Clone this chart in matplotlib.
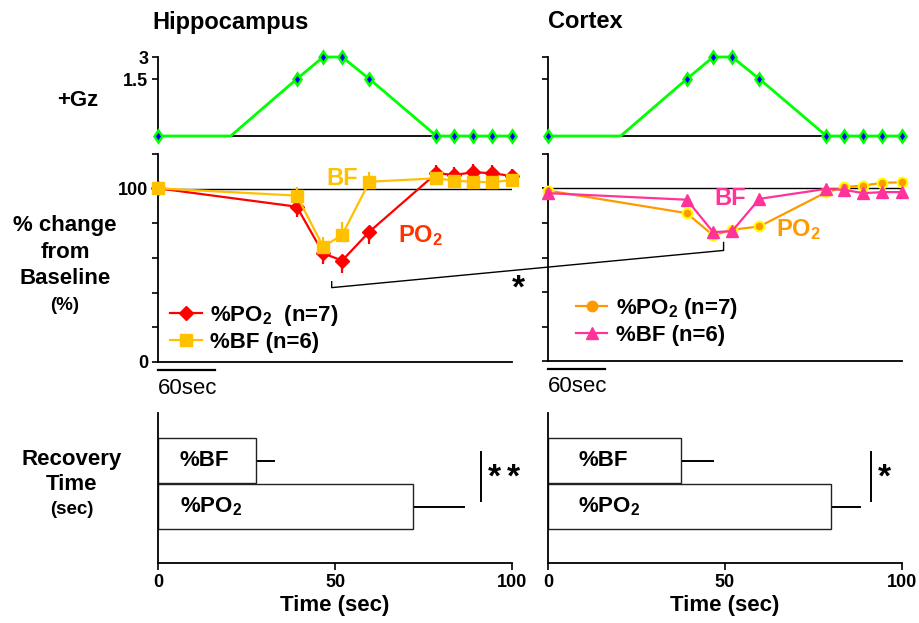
import numpy as np
import matplotlib
matplotlib.use("Agg")
import matplotlib.pyplot as plt
from matplotlib.lines import Line2D

plt.rcParams['font.family'] = ['Liberation Sans', 'DejaVu Sans']
plt.rcParams['font.weight'] = 'bold'
plt.rcParams['axes.labelweight'] = 'bold'
plt.rcParams['mathtext.default'] = 'regular'

# time of each sample (sec) and the +Gz profile
t = [0, 147, 175, 195, 224, 295, 314, 334, 354, 375]
gz_t = [0, 77, 147, 175, 195, 224, 295, 314, 334, 354, 375]
gz = [0, 0, 1.5, 3, 3, 1.5, 0, 0, 0, 0, 0]

# hippocampus, % of baseline
hip_po2 = [100.2, 89.6, 62.7, 58.5, 75.2, 108.9, 107.9, 109.5, 108.9, 107.3]
hip_po2_lo = [0, 5.8, 6.3, 6.9, 6.9, 0, 0, 0, 0, 0]
hip_po2_hi = [0, 0, 0, 0, 0, 4.6, 4.6, 4.6, 4.6, 4.0]
hip_bf = [100.2, 96.0, 66.5, 73.3, 104.0, 106.0, 104.6, 104.0, 103.7, 105.0]
hip_bf_lo = [0, 0, 0, 0, 0, 2.5, 3.5, 3.5, 4.0, 2.5]
hip_bf_hi = [0, 5.2, 5.8, 7.7, 5.8, 0, 0, 0, 0, 0]

# cortex, % of baseline
ctx_po2 = [98.8, 85.7, 72.8, 76.1, 78.0, 97.9, 100.8, 101.7, 103.3, 103.6]
ctx_bf = [97.3, 93.5, 74.7, 75.3, 94.0, 99.8, 99.2, 97.3, 97.9, 97.9]

# recovery time (sec): [%PO2, %BF]
rec_labels = ['%PO$_2$', '%BF']
hip_rec = [72.1, 27.7]
hip_rec_err = [14.2, 5.1]
ctx_rec = [80.0, 37.6]
ctx_rec_err = [8.0, 9.1]

W, H = 920, 623
fig = plt.figure(figsize=(W / 100, H / 100), dpi=100)


def px_axes(x0, y0, x1, y1):
    return fig.add_axes([x0 / W, 1 - y1 / H, (x1 - x0) / W, (y1 - y0) / H])


def only_left_bottom(ax):
    for s in ['top', 'right']:
        ax.spines[s].set_visible(False)
    for s in ['left', 'bottom']:
        ax.spines[s].set_linewidth(1.3)
    ax.tick_params(labelsize=13, width=1.2, length=4, pad=3)


# the G levels were drawn on a stretched scale
gz_in = [-10, 0, 1.5, 3, 10]
gz_out = [-263, 0, 57, 79, 182]


def gz_fwd(v):
    return np.interp(v, gz_in, gz_out)


def gz_inv(v):
    return np.interp(v, gz_out, gz_in)


def gz_panel(ax, labels):
    only_left_bottom(ax)
    ax.set_yscale('function', functions=(gz_fwd, gz_inv))
    ax.plot(gz_t, gz, color='#00ff00', lw=2, marker='d', ms=6, mfc='blue',
            mec='#00ff00', mew=1.8, markevery=[0, 2, 3, 4, 5, 6, 7, 8, 9, 10],
            clip_on=False, zorder=3)
    ax.set_xlim(0, 375)
    ax.set_ylim(0, 3)
    ax.set_xticks([])
    ax.set_yticks([1.5, 3])
    ax.set_yticklabels(['1.5', '3'] if labels else ['', ''])


def change_panel(ax, labels):
    only_left_bottom(ax)
    ax.axhline(100, color='black', lw=1, zorder=1)
    ax.set_xlim(0, 375)
    ax.set_ylim(0, 120)
    ax.set_xticks([])
    ax.set_yticks(range(0, 121, 20))
    ax.set_yticklabels(['0', '', '', '', '', '100', ''] if labels else [''] * 7)
    # 60 sec scale bar
    ax.plot([0, 60], [-4.6, -4.6], color='black', lw=1.6, clip_on=False)
    ax.text(0, -15, '60sec', fontsize=16, fontweight='normal', ha='left',
            va='center', clip_on=False)


def recovery_panel(ax, vals, errs, nstars, lab_x):
    only_left_bottom(ax)
    pos = [1, 2]
    ax.barh(pos, vals, height=0.98, color='white', edgecolor='#222222', lw=1,
            zorder=2)
    for p, v, e in zip(pos, vals, errs):
        ax.plot([v, v + e], [p, p], color='black', lw=1.4, zorder=1)
    for p, lab in zip(pos, rec_labels):
        ax.text(lab_x, p, lab, fontsize=16, ha='left', va='center', zorder=3)
    ax.plot([91.3, 91.3], [1.12, 2.18], color='black', lw=1.4)
    for i in range(nstars):
        ax.text(93.2 + 5.4 * i, 1.62, '*', fontsize=24, ha='left', va='center',
                clip_on=False)
    ax.set_xlim(0, 100)
    ax.set_ylim(-0.22, 3.03)
    ax.set_yticks([])
    ax.set_xticks([0, 50, 100])
    ax.tick_params(axis='x', length=5)
    ax.set_xlabel('Time (sec)', fontsize=16, labelpad=3)


# Hippocampus
ax1 = px_axes(158, 57, 512, 136)
gz_panel(ax1, True)
ax2 = px_axes(158, 154, 512, 362)
change_panel(ax2, True)
ax2.errorbar(t, hip_po2, yerr=[hip_po2_lo, hip_po2_hi], fmt='none',
             ecolor='#ff0000', elinewidth=1.6, capsize=0, clip_on=False, zorder=2)
ax2.plot(t, hip_po2, color='#ff0000', lw=1.6, marker='D', ms=7, clip_on=False,
         label='%PO$_2$  (n=7)', zorder=3)
ax2.errorbar(t, hip_bf, yerr=[hip_bf_lo, hip_bf_hi], fmt='none',
             ecolor='#ffc000', elinewidth=1.6, capsize=0, clip_on=False, zorder=3)
ax2.plot(t, hip_bf, color='#ffc000', lw=1.6, marker='s', ms=8, clip_on=False,
         label='%BF (n=6)', zorder=4)
ax2.text(178, 106, 'BF', color='#ffc000', fontsize=17, ha='left', va='center')
ax2.text(254, 73, 'PO$_2$', color='#ff3300', fontsize=17, ha='left', va='center')
ax2.legend(loc='upper left', bbox_to_anchor=(0.035, 0.285), frameon=False,
           fontsize=16, handlelength=1.4, handletextpad=0.4, labelspacing=0.2,
           borderpad=0, borderaxespad=0)
ax3 = px_axes(158, 413, 512, 563)
recovery_panel(ax3, hip_rec, hip_rec_err, 2, 6.2)

# Cortex
ax4 = px_axes(548, 57, 902, 136)
gz_panel(ax4, False)
ax5 = px_axes(548, 154, 902, 361)
change_panel(ax5, False)
ax5.plot(t, ctx_po2, color='#ff9900', lw=1.6, marker='o', ms=7, mfc='#ff9900',
         mec='#ffff00', mew=1.5, clip_on=False, label='%PO$_2$ (n=7)', zorder=3)
ax5.plot(t, ctx_bf, color='#ff3399', lw=1.6, marker='^', ms=8, clip_on=False,
         label='%BF (n=6)', zorder=4)
ax5.text(176, 94, 'BF', color='#ff3399', fontsize=17, ha='left', va='center')
ax5.text(242, 76, 'PO$_2$', color='#ff9900', fontsize=17, ha='left', va='center')
leg = ax5.legend(loc='upper left', bbox_to_anchor=(0.08, 0.315), frameon=False,
                 fontsize=16, handlelength=1.4, handletextpad=0.4,
                 labelspacing=0.2, borderpad=0, borderaxespad=0)
for h in leg.legend_handles:
    h.set_markeredgecolor(h.get_color())
ax6 = px_axes(548, 413, 902, 563)
recovery_panel(ax6, ctx_rec, ctx_rec_err, 1, 8.5)

# bracket joining the two troughs
pts = [ax2.transData.transform((184, 46.3)), ax2.transData.transform((184, 42.9)),
       ax5.transData.transform((186, 64.1)), ax5.transData.transform((186, 68.7))]
pts = fig.transFigure.inverted().transform(pts)
fig.add_artist(Line2D(pts[:, 0], pts[:, 1], color='black', lw=1))
fig.text(512 / W, 1 - 289 / H, '*', fontsize=24, ha='left', va='center')

# panel titles and row labels
fig.text(152 / W, 1 - 22 / H, 'Hippocampus', fontsize=17, va='center')
fig.text(548 / W, 1 - 22 / H, 'Cortex', fontsize=17, va='center')
fig.text(78 / W, 1 - 100 / H, '+Gz', fontsize=16, ha='center', va='center')
for y, s in [(225, '% change'), (252, 'from'), (279, 'Baseline')]:
    fig.text(65 / W, 1 - y / H, s, fontsize=16, ha='center', va='center')
fig.text(65 / W, 1 - 305 / H, '(%)', fontsize=13.5, ha='center', va='center')
for y, s in [(459, 'Recovery'), (485, 'Time')]:
    fig.text(72 / W, 1 - y / H, s, fontsize=16, ha='center', va='center')
fig.text(72 / W, 1 - 510 / H, '(sec)', fontsize=13.5, ha='center', va='center')

fig.savefig('out.png', dpi=100)
